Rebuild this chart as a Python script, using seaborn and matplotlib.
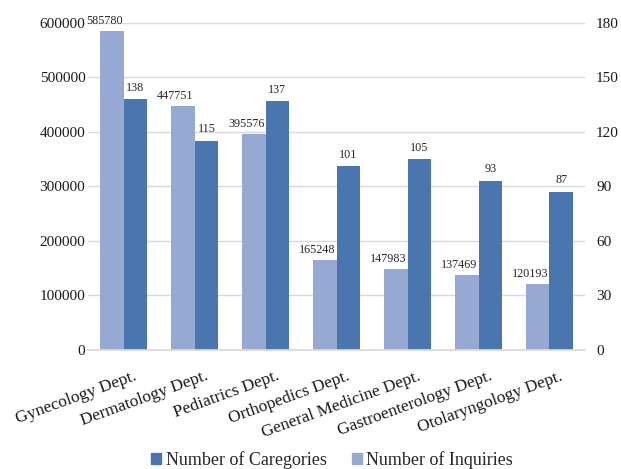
import matplotlib
matplotlib.use("Agg")
import matplotlib.pyplot as plt
import matplotlib.transforms as mtransforms
import pandas as pd
import seaborn as sns
from matplotlib.patches import Patch

departments = ["Gynecology Dept.", "Dermatology Dept.", "Pediatrics Dept.",
               "Orthopedics Dept.", "General Medicine Dept.",
               "Gastroenterology Dept.", "Otolaryngology Dept."]
inquiries = [585780, 447751, 395576, 165248, 147983, 137469, 120193]
categories = [138, 115, 137, 101, 105, 93, 87]

inq_label = "Number of Inquiries"
cat_label = "Number of Caregories"
light = "#95A9D2"
dark = "#4A76AF"

sns.set_theme(style="white")
plt.rcParams["font.family"] = ["Liberation Serif", "DejaVu Serif"]

df_inq = pd.DataFrame({"dept": departments, "value": inquiries, "series": inq_label})
df_cat = pd.DataFrame({"dept": departments, "value": categories, "series": cat_label})
hue_order = [inq_label, cat_label]
palette = {inq_label: light, cat_label: dark}

fig, ax = plt.subplots(figsize=(6.21, 4.69), dpi=100)
fig.subplots_adjust(left=0.142, right=0.942, top=0.951, bottom=0.254)
ax2 = ax.twinx()
# inquiries axis drawn on top so its labels are not hidden by the dark bars
ax.set_zorder(ax2.get_zorder() + 1)
ax.patch.set_visible(False)

sns.barplot(data=df_inq, x="dept", y="value", hue="series", hue_order=hue_order,
            palette=palette, order=departments, width=0.66, dodge=True, ax=ax,
            legend=False, saturation=1, linewidth=0)
sns.barplot(data=df_cat, x="dept", y="value", hue="series", hue_order=hue_order,
            palette=palette, order=departments, width=0.66, dodge=True, ax=ax2,
            legend=False, saturation=1, linewidth=0)

# light-bar labels sit a little left of centre, as in the original
for c in ax.containers:
    if len(c):
        for t in ax.bar_label(c, fmt="%d", padding=3, fontsize=8.7, color="#262626"):
            dx, dy = t.xyann
            t.xyann = (dx - 5.4, dy)
for c in ax2.containers:
    if len(c):
        ax2.bar_label(c, fmt="%d", padding=4, fontsize=8.7, color="#262626")

ax.set_ylim(0, 600000)
ax.set_yticks(range(0, 600001, 100000))
ax2.set_ylim(0, 180)
ax2.set_yticks(range(0, 181, 30))
ax.set_xlim(-0.5, len(departments) - 0.5)

ax2.yaxis.grid(True, color="#D9D9D9", linewidth=1)
ax2.set_axisbelow(True)
ax.grid(False)
for a in (ax, ax2):
    for s in a.spines.values():
        s.set_visible(False)
    a.set_xlabel("")
    a.set_ylabel("")
    a.tick_params(axis="both", length=0, labelsize=11, colors="#1a1a1a")
ax.spines["bottom"].set_visible(True)
ax.spines["bottom"].set_color("#D9D9D9")
ax.tick_params(axis="y", pad=2)
ax2.tick_params(axis="y", pad=8)

ax.set_xticks(range(len(departments)))
ax.set_xticklabels(departments, rotation=20, ha="right", rotation_mode="anchor",
                   fontsize=12.5)
ax.tick_params(axis="x", pad=6)
shift = mtransforms.ScaledTranslation(0.10, -0.10, fig.dpi_scale_trans)
for lbl in ax.get_xticklabels():
    lbl.set_transform(lbl.get_transform() + shift)

handles = [Patch(color=dark, label=cat_label), Patch(color=light, label=inq_label)]
fig.legend(handles=handles, loc="lower center", ncol=2, frameon=False,
           fontsize=13, bbox_to_anchor=(0.535, -0.035), handlelength=0.55,
           handleheight=0.55, handletextpad=0.25, columnspacing=1.4)

fig.savefig("out.png", dpi=100)
